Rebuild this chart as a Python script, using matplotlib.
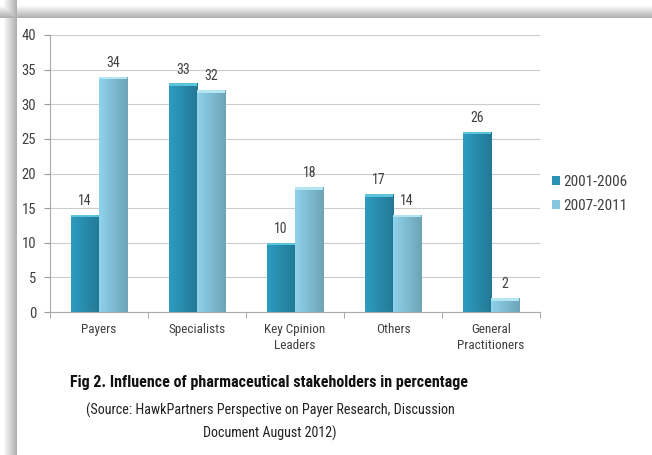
import numpy as np
import matplotlib
matplotlib.use("Agg")
import matplotlib.pyplot as plt
from matplotlib import font_manager
from matplotlib.patches import Rectangle

categories = ["Payers", "Specialists", "Key Cpinion\nLeaders", "Others", "General\nPractitioners"]
series_names = ["2001-2006", "2007-2011"]
vals_2001 = [14, 33, 10, 17, 26]
vals_2007 = [34, 32, 18, 14, 2]
yticks = [0, 5, 10, 15, 20, 25, 30, 35, 40]

title = "Fig 2. Influence of pharmaceutical stakeholders in percentage"
source_1 = "(Source: HawkPartners Perspective on Payer Research, Discussion"
source_2 = "Document August 2012)"

DARK = "#2a93b5"
LIGHT = "#86c7de"
TXT = "#404040"

# narrowest installed sans, to get close to Calibri widths
installed = {f.name for f in font_manager.fontManager.ttflist}
FONT = next(n for n in ["Liberation Sans Narrow", "DejaVu Sans Condensed",
                        "Roboto Condensed", "Roboto", "Open Sans", "DejaVu Sans"]
            if n in installed)
plt.rcParams["font.family"] = [FONT, "DejaVu Sans"]

W, H = 652, 455
fig = plt.figure(figsize=(W / 100, H / 100), dpi=100)

# background: white page with grey shadow bands on top and left
bg = fig.add_axes([0, 0, 1, 1])
yy = np.arange(H)[:, None].astype(float)
xx = np.arange(W)[None, :].astype(float)
top = np.where((yy >= 5) & (yy < 18), (yy - 5) / 13.0, 0.0)
left = np.where((xx >= 3) & (xx < 17), (xx - 3) / 14.0, 0.0)
shade = np.maximum(top * np.ones((1, W)), left * np.ones((H, 1)))
img = np.ones((H, W, 3)) - 0.33 * shade[:, :, None]
bg.imshow(img, extent=[0, W, H, 0], aspect="auto", interpolation="bilinear")
bg.set_axis_off()

ax = fig.add_axes([50 / W, 1 - 312 / H, 490 / W, 277 / H])
x = np.arange(len(categories))
w = 0.29


def shade_bars(bars, base, cap):
    # horizontal gradient to fake the rounded 3D look
    rgb = np.array(matplotlib.colors.to_rgb(base))
    t = np.linspace(0, 1, 32)
    f = 1.06 - 0.24 * t
    grad = np.clip(rgb[None, :] * f[:, None], 0, 1)[None, :, :]
    for b in bars:
        x0, y0 = b.get_x(), b.get_y()
        bw, bh = b.get_width(), b.get_height()
        im = ax.imshow(grad, extent=[x0, x0 + bw, y0, y0 + bh], aspect="auto",
                       zorder=2.1, interpolation="bilinear")
        im.set_clip_path(b)
        ax.add_patch(Rectangle((x0, y0 + bh - 0.35), bw, 0.35, color=cap,
                               zorder=2.2, lw=0))


b1 = ax.bar(x - w / 2, vals_2001, w, color=DARK, label=series_names[0], zorder=2)
b2 = ax.bar(x + w / 2, vals_2007, w, color=LIGHT, label=series_names[1], zorder=2)
shade_bars(b1, DARK, "#5cc3dc")
shade_bars(b2, LIGHT, "#b3e6f2")

for bars, vals in ((b1, vals_2001), (b2, vals_2007)):
    for b, v in zip(bars, vals):
        ax.text(b.get_x() + b.get_width() / 2, v + 1.0, str(v), ha="center",
                va="bottom", fontsize=10, color=TXT)

ax.set_ylim(0, 40)
ax.set_yticks(yticks)
ax.tick_params(axis="y", labelsize=10.5, labelcolor=TXT, color="#999999",
               length=4, pad=6)
ax.set_xticks(x)
ax.set_xticklabels(categories, fontsize=9.5, color=TXT, linespacing=1.3)
ax.tick_params(axis="x", length=0, pad=8)
ax.set_xticks(np.arange(-0.5, len(categories)), minor=True)
ax.tick_params(axis="x", which="minor", length=4, color="#999999")
ax.set_xlim(-0.5, len(categories) - 0.5)
ax.grid(axis="y", color="#cccccc", lw=0.8, zorder=0)
ax.set_axisbelow(True)
for s in ("top", "right"):
    ax.spines[s].set_visible(False)
for s in ("left", "bottom"):
    ax.spines[s].set_color("#aaaaaa")

fig.legend(handles=[b1, b2], loc="upper left",
           bbox_to_anchor=(538 / W, 1 - 161 / H), frameon=False,
           fontsize=11, handlelength=0.55, handleheight=0.55,
           handletextpad=0.2, labelspacing=0.65, labelcolor=TXT)

# caption texts, fitted to the widths seen in the reference
renderer = fig.canvas.get_renderer()


def fit_text(s, cx, cy, width, size, **kw):
    t = fig.text(cx / W, 1 - cy / H, s, ha="center", va="center", fontsize=size, **kw)
    cur = t.get_window_extent(renderer).width
    t.set_fontsize(size * width / cur)
    return t


fit_text(title, 269, 383, 400, 14, fontweight="bold", color="#111111")
fit_text(source_1, 270, 410, 368, 12, color="#222222")
fit_text(source_2, 270, 433, 133, 12, color="#222222")

fig.savefig("out.png", dpi=100)
